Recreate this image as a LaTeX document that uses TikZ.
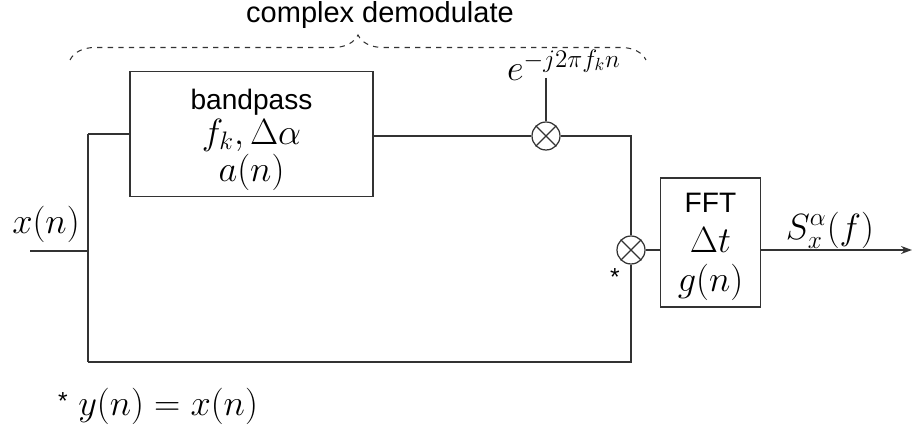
\documentclass[tikz,border=0pt]{standalone}
\usepackage{amsmath}
\usepackage{fontspec}
\setsansfont{Liberation Sans}
\usepackage{xcolor}
\definecolor{dspline}{HTML}{333333}
\usetikzlibrary{arrows.meta,positioning,calc,decorations.pathreplacing}
\newcommand\dspbig{\fontsize{20}{20}\selectfont}
\tikzset{
  dspbox/.style={draw=dspline,line width=0.9pt,fill=white,inner sep=2pt,align=center,font=\fontsize{16}{20}\selectfont\sffamily},
  dspmix/.style={draw=dspline,line width=0.7pt,circle,minimum size=0.56cm,inner sep=0pt},
  dspwire/.style={draw=dspline,line width=0.9pt},
  dspmath/.style={font=\fontsize{20}{24}\selectfont,inner sep=1pt},
}
\begin{document}
\begin{tikzpicture}[x=0.02cm,y=-0.02cm]
\useasboundingbox (0,0) rectangle (914,428);
% blocks
\node[dspbox,minimum width=4.86cm,minimum height=2.5cm](bp) at (251.5,134){\rule{0pt}{18pt}bandpass\\\dspbig$f_k,\Delta\alpha$\\[1pt]\dspbig$a(n)$};
\node[dspbox,minimum width=2.0cm,minimum height=2.58cm](fft) at (710.5,242.5){\rule{0pt}{16pt}FFT\\[3pt]\dspbig$\Delta t$\\[2pt]\dspbig$g(n)$};
\node[dspmix](m1) at (546,136){};
\node[dspmix](m2) at (631,250){};
\draw[dspline,line width=0.7pt](m1.north west)--(m1.south east) (m1.north east)--(m1.south west);
\draw[dspline,line width=0.7pt](m2.north west)--(m2.south east) (m2.north east)--(m2.south west);
% points
\coordinate(in) at (30,251);
\coordinate(jn) at (88,251);
\coordinate(lo) at (88,362);
\coordinate(out) at (912,250);
\coordinate(osc) at (546,78);
% wires
\draw[dspwire](in)--(jn);
\draw[dspwire](jn|-bp.west)--(lo);
\draw[dspwire](jn|-bp.west)--(bp.west);
\draw[dspwire](bp.east|-m1.west)--(m1.west);
\draw[dspwire](m1.east)-|(m2.north);
\draw[dspwire](lo)-|(m2.south);
\draw[dspwire](osc)--(m1.north);
\draw[dspwire](m2.east)--(m2.east-|fft.west);
\draw[dspwire,-{Stealth[length=2.2mm,width=1.6mm]}](m2-|fft.east)--(out);
% labels
\node[dspmath](xl) at (46,224){$x(n)$};
\node[dspmath](sl) at (830,230){$S_x^{\alpha}(f)$};
\node[dspmath](ol) at (564,65){$e^{-j2\pi f_k n}$};
\node[font=\fontsize{14}{16}\selectfont\sffamily,inner sep=0pt](st) at (615,277){*};
\node[dspmath](eq) at (158,406){\raisebox{3pt}{\fontsize{14}{16}\selectfont\sffamily*} $y(n)=x(n)$};
% brace
\draw[dspline,line width=0.6pt,dashed,decorate,decoration={brace,amplitude=0.5cm}](70,60)--(646,60);
\node[font=\fontsize{16.5}{19}\selectfont\sffamily](cd) at (380,15){complex demodulate};
\end{tikzpicture}
\end{document}
